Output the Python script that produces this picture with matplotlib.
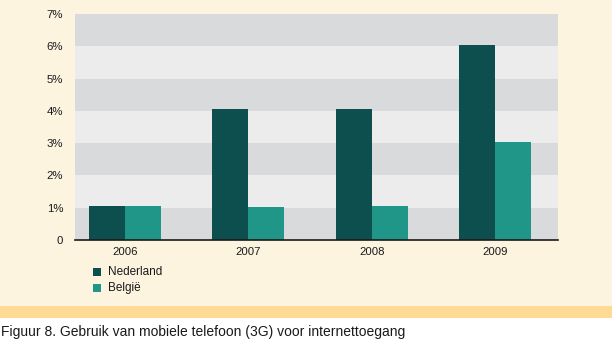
import matplotlib
matplotlib.use("Agg")
import matplotlib.pyplot as plt
from matplotlib.patches import Rectangle
import numpy as np

plt.rcParams['font.family'] = ['Liberation Sans', 'DejaVu Sans']

years = ["2006", "2007", "2008", "2009"]
series_names = ["Nederland", "België"]
nederland = [1.05, 4.05, 4.05, 6.05]
belgie = [1.05, 1.02, 1.05, 3.02]
y_ticks = [0, 1, 2, 3, 4, 5, 6, 7]
y_tick_labels = ["0", "1%", "2%", "3%", "4%", "5%", "6%", "7%"]
caption = "Figuur 8. Gebruik van mobiele telefoon (3G) voor internettoegang"

col_nl = "#0D4F4F"
col_be = "#1F9688"
band_dark = "#D9DADC"
band_light = "#ECECEC"
cream = "#FDF4E0"
orange = "#FDDB94"

W, H = 612, 343
fig = plt.figure(figsize=(W / 100, H / 100), dpi=100)
fig.patch.set_facecolor("white")

def fx(px):
    return px / W

def fy(py):
    return 1 - py / H

# background panels
fig.add_artist(Rectangle((0, fy(306)), 1, 306 / H, transform=fig.transFigure,
                         facecolor=cream, edgecolor="none", zorder=0))
fig.add_artist(Rectangle((0, fy(318)), 1, 12 / H, transform=fig.transFigure,
                         facecolor=orange, edgecolor="none", zorder=0))

ax = fig.add_axes([fx(75), fy(240), (558 - 75) / W, (240 - 14) / H])
ax.set_facecolor(band_light)

# alternating horizontal bands
for i in range(len(y_ticks) - 1):
    ax.axhspan(y_ticks[i], y_ticks[i + 1],
               color=band_dark if i % 2 == 0 else band_light, lw=0, zorder=0)

x = np.arange(len(years))
w = 0.292
ax.bar(x - w / 2, nederland, width=w, color=col_nl, zorder=2, linewidth=0)
ax.bar(x + w / 2, belgie, width=w, color=col_be, zorder=2, linewidth=0)

ax.set_xlim(-0.405, 3.51)
ax.set_ylim(0, 7)
ax.set_yticks(y_ticks)
ax.set_yticklabels(y_tick_labels)
ax.set_xticks(x)
ax.set_xticklabels(years)
ax.tick_params(axis="both", length=0, labelsize=8.2, colors="#1a1a1a")
ax.tick_params(axis="y", pad=8.5)
ax.tick_params(axis="x", pad=5)
for s in ["top", "right", "left"]:
    ax.spines[s].set_visible(False)
ax.spines["bottom"].set_color("#1a1a1a")
ax.spines["bottom"].set_linewidth(1.2)
ax.spines["bottom"].set_zorder(3)

# legend
for i, (name, col) in enumerate(zip(series_names, [col_nl, col_be])):
    top = 268 + 16 * i
    fig.add_artist(Rectangle((fx(93), fy(top + 8)), 8 / W, 8 / H,
                             transform=fig.transFigure, facecolor=col,
                             edgecolor="none", zorder=3))
    fig.text(fx(108), fy(top + 4), name, fontsize=8.5, color="#1a1a1a",
             va="center", ha="left")

fig.text(fx(1), fy(332), caption, fontsize=10, color="#1a1a1a",
         va="center", ha="left")

fig.savefig("out.png", dpi=100, facecolor=fig.get_facecolor())
